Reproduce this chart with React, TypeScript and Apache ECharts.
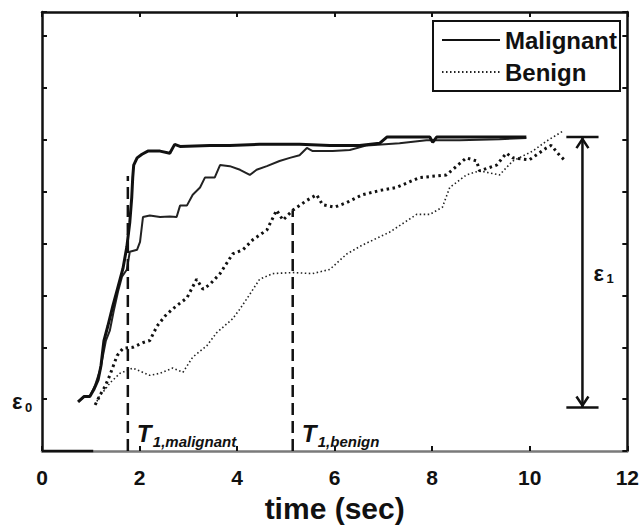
import React, { useEffect, useRef } from "react";
import * as echarts from "echarts";

// time (sec), normalized strain (tick units)
const malignantFast: [number, number][] = [
  [0.74, 0.95], [0.86, 1.05], [0.98, 1.05], [1.06, 1.18], [1.15, 1.37], [1.21, 1.65],
  [1.27, 2.13], [1.35, 2.41], [1.45, 2.79], [1.56, 3.17], [1.66, 3.52], [1.74, 3.94],
  [1.8, 4.41], [1.84, 4.89], [1.86, 5.27], [1.88, 5.51], [1.95, 5.65], [2.05, 5.72],
  [2.17, 5.78], [2.42, 5.78], [2.62, 5.74], [2.72, 5.91], [2.83, 5.87], [3.44, 5.89],
  [3.85, 5.89], [4.46, 5.91], [5.28, 5.91], [5.9, 5.89], [6.51, 5.89], [6.92, 5.93],
  [7.07, 6.05], [7.95, 6.05], [8.01, 5.95], [8.09, 6.05], [8.97, 6.05], [9.93, 6.05],
];

const malignantSlow: [number, number][] = [
  [0.74, 0.95], [0.86, 1.05], [0.98, 1.05], [1.09, 1.27], [1.19, 1.56], [1.25, 1.84],
  [1.31, 2.13], [1.39, 2.32], [1.47, 2.7], [1.56, 3.08], [1.64, 3.36], [1.74, 3.5],
  [1.8, 3.84], [1.95, 3.88], [2.01, 4.03], [2.07, 4.51], [2.21, 4.54], [2.42, 4.51],
  [2.62, 4.52], [2.76, 4.51], [2.83, 4.73], [2.97, 4.73], [3.09, 4.94], [3.24, 5.08],
  [3.34, 5.27], [3.54, 5.27], [3.65, 5.51], [3.85, 5.49], [4.06, 5.42], [4.26, 5.32],
  [4.4, 5.42], [4.61, 5.49], [4.87, 5.59], [5.08, 5.65], [5.28, 5.7], [5.43, 5.84],
  [5.55, 5.78], [5.96, 5.78], [6.31, 5.8], [6.66, 5.89], [7.33, 5.93], [7.88, 5.99],
  [8.56, 5.99], [9.38, 6.01], [9.93, 6.03],
];

const benignFast: [number, number][] = [
  [1.09, 0.89], [1.19, 1.08], [1.29, 1.24], [1.39, 1.46], [1.54, 1.84], [1.66, 1.98],
  [1.86, 2.0], [2.07, 2.09], [2.21, 2.13], [2.36, 2.41], [2.52, 2.6], [2.68, 2.74],
  [2.83, 2.85], [2.97, 2.95], [3.17, 3.31], [3.3, 3.12], [3.44, 3.21], [3.65, 3.42],
  [3.91, 3.8], [4.12, 3.88], [4.32, 4.07], [4.61, 4.26], [4.81, 4.64], [4.94, 4.45],
  [5.14, 4.64], [5.43, 4.83], [5.63, 4.94], [5.75, 4.75], [6.0, 4.7], [6.25, 4.79],
  [6.57, 4.94], [6.92, 5.02], [7.27, 5.08], [7.74, 5.27], [8.29, 5.32], [8.7, 5.65],
  [8.91, 5.59], [8.97, 5.4], [9.32, 5.51], [9.52, 5.74], [9.65, 5.65], [9.99, 5.61],
  [10.34, 5.84], [10.44, 5.89], [10.61, 5.7], [10.71, 5.61],
];

const benignSlow: [number, number][] = [
  [1.09, 0.89], [1.19, 1.08], [1.29, 1.18], [1.39, 1.31], [1.6, 1.5], [1.86, 1.6],
  [2.01, 1.54], [2.21, 1.46], [2.42, 1.5], [2.68, 1.6], [2.89, 1.52], [3.09, 1.81],
  [3.38, 2.03], [3.58, 2.28], [3.91, 2.55], [4.06, 2.74], [4.26, 3.02], [4.46, 3.31],
  [4.73, 3.42], [5.14, 3.44], [5.55, 3.42], [5.9, 3.5], [6.25, 3.8], [6.57, 3.97],
  [7.13, 4.22], [7.68, 4.56], [7.95, 4.56], [8.21, 4.7], [8.36, 5.08], [8.7, 5.32],
  [8.97, 5.4], [9.38, 5.32], [9.65, 5.59], [10.06, 5.78], [10.34, 5.97], [10.67, 6.16],
];

// annotations (data units)
const t1Malignant = { x: 1.76, top: 5.3 };
const t1Benign = { x: 5.14, top: 4.64 };
const eps = { x: 11.08, low: 0.84, high: 6.05, barHalf: 0.33, labelY: 3.42, eps0Y: 0.92 };

const FONT = "'Liberation Sans', Arial, Helvetica, sans-serif";
const INK = "#111";

export default function App() {
  const ref = useRef<HTMLDivElement>(null);
  useEffect(() => {
    if (!ref.current) return;
    const chart = echarts.init(ref.current, undefined, { renderer: "svg" });

    const renderItem = (_params: any, api: any) => {
      const c = (x: number, y: number) => api.coord([x, y]);
      const children: any[] = [];
      const line = (a: number[], b: number[], extra: any = {}) =>
        children.push({
          type: "line",
          shape: { x1: a[0], y1: a[1], x2: b[0], y2: b[1] },
          style: { stroke: INK, lineWidth: 2.5, ...extra },
        });
      // black start of bottom axis
      line(c(0, 0), c(1.05, 0), { lineWidth: 2.5 });
      // T1 dashed lines
      line(c(t1Malignant.x, 0), c(t1Malignant.x, t1Malignant.top), { lineDash: [12, 6] });
      line(c(t1Benign.x, 0), c(t1Benign.x, t1Benign.top), { lineDash: [12, 6] });
      // epsilon1 arrow
      const top = c(eps.x, eps.high);
      const bot = c(eps.x, eps.low);
      line(top, bot, { lineWidth: 2.5 });
      line(c(eps.x - eps.barHalf, eps.high), c(eps.x + eps.barHalf, eps.high), { lineWidth: 2.5 });
      line(c(eps.x - eps.barHalf, eps.low), c(eps.x + eps.barHalf, eps.low), { lineWidth: 2.5 });
      children.push({
        type: "polyline",
        shape: { points: [[top[0] - 6, top[1] + 11], [top[0], top[1] + 2], [top[0] + 6, top[1] + 11]] },
        style: { stroke: INK, lineWidth: 2.5, fill: "none" },
      });
      children.push({
        type: "polyline",
        shape: { points: [[bot[0] - 6, bot[1] - 11], [bot[0], bot[1] - 2], [bot[0] + 6, bot[1] - 11]] },
        style: { stroke: INK, lineWidth: 2.5, fill: "none" },
      });
      const text = (x: number, y: number, t: string, size: number, italic = false, bold = true) =>
        children.push({
          type: "text",
          x,
          y,
          style: {
            text: t,
            fontSize: size,
            fontFamily: FONT,
            fontWeight: bold ? "bold" : "normal",
            fontStyle: italic ? "italic" : "normal",
            fill: INK,
            align: "left",
            verticalAlign: "middle",
          },
        });
      // T labels
      const tm = c(t1Malignant.x, 0);
      text(tm[0] + 9, tm[1] - 18, "T", 24, true);
      text(tm[0] + 25, tm[1] - 10, "1,malignant", 15, true);
      const tb = c(t1Benign.x, 0);
      text(tb[0] + 9, tb[1] - 18, "T", 24, true);
      text(tb[0] + 25, tb[1] - 10, "1,benign", 15, true);
      // epsilon labels
      const e1 = c(eps.x, eps.labelY);
      text(e1[0] + 11, e1[1], "\u03b5", 22, false);
      text(e1[0] + 24, e1[1] + 5, "1", 13, false);
      const e0 = c(0, eps.eps0Y);
      text(e0[0] - 30, e0[1] - 2, "\u03b5", 22, false);
      text(e0[0] - 17, e0[1] + 4, "0", 13, false);
      return { type: "group", children };
    };

    const axisCommon = {
      axisLine: { show: true, onZero: false, lineStyle: { color: INK, width: 2.5 } },
      axisTick: { show: true, inside: true, length: 5, lineStyle: { color: INK, width: 2 } },
      splitLine: { show: false },
    };

    chart.setOption({
      animation: false,
      backgroundColor: "#fff",
      grid: { left: 42, right: 14, top: 12, bottom: 71, containLabel: false },
      legend: {
        data: ["Malignant", "Benign"],
        orient: "vertical",
        right: 22,
        top: 21,
        itemWidth: 58,
        itemHeight: 14,
        itemGap: 8,
        padding: [7, 3, 7, 8],
        borderColor: INK,
        borderWidth: 2,
        backgroundColor: "#fff",
        selectedMode: false,
        itemStyle: { opacity: 0 },
        textStyle: { fontFamily: FONT, fontWeight: "bold", fontSize: 24, color: INK },
      },
      xAxis: [
        {
          type: "value",
          min: 0,
          max: 12,
          interval: 2,
          position: "bottom",
          ...axisCommon,
          axisLine: { show: true, onZero: false, lineStyle: { color: "#7a7a7a", width: 2.5 } },
          axisLabel: { fontFamily: FONT, fontWeight: "bold", fontSize: 21, color: INK, margin: 16 },
          name: "time (sec)",
          nameLocation: "middle",
          nameGap: 40,
          nameTextStyle: { fontFamily: FONT, fontWeight: "bold", fontSize: 30, color: INK },
        },
        {
          type: "value",
          min: 0,
          max: 12,
          interval: 2,
          position: "top",
          ...axisCommon,
          axisLabel: { show: false },
        },
      ],
      yAxis: [
        {
          type: "value",
          min: 0,
          max: 8.46,
          interval: 1,
          position: "left",
          ...axisCommon,
          axisLabel: { show: false },
        },
        {
          type: "value",
          min: 0,
          max: 8.46,
          interval: 1,
          position: "right",
          ...axisCommon,
          axisLabel: { show: false },
        },
      ],
      series: [
        {
          name: "Malignant",
          type: "line",
          data: malignantFast,
          symbol: "none",
          showSymbol: false,
          itemStyle: { color: INK },
          lineStyle: { color: INK, width: 3 },
          z: 4,
        },
        {
          name: "Malignant",
          type: "line",
          data: malignantSlow,
          symbol: "none",
          showSymbol: false,
          itemStyle: { color: INK },
          lineStyle: { color: "#222", width: 2 },
          z: 3,
        },
        {
          name: "Benign",
          type: "line",
          data: benignSlow,
          symbol: "none",
          showSymbol: false,
          itemStyle: { color: INK },
          lineStyle: { color: "#222", width: 1.6, type: [1.5, 2.5] },
          z: 3,
        },
        {
          name: "Benign",
          type: "line",
          data: benignFast,
          symbol: "none",
          showSymbol: false,
          itemStyle: { color: INK },
          lineStyle: { color: INK, width: 3, type: [2.5, 3.5] },
          z: 3,
        },
        {
          type: "custom",
          coordinateSystem: "cartesian2d",
          data: [[0, 0]],
          renderItem,
          clip: false,
          silent: true,
          z: 5,
        },
      ],
    });
    return () => chart.dispose();
  }, []);
  return <div ref={ref} style={{ width: 642, height: 528, position: "absolute", left: 0, top: 0 }} />;
}
